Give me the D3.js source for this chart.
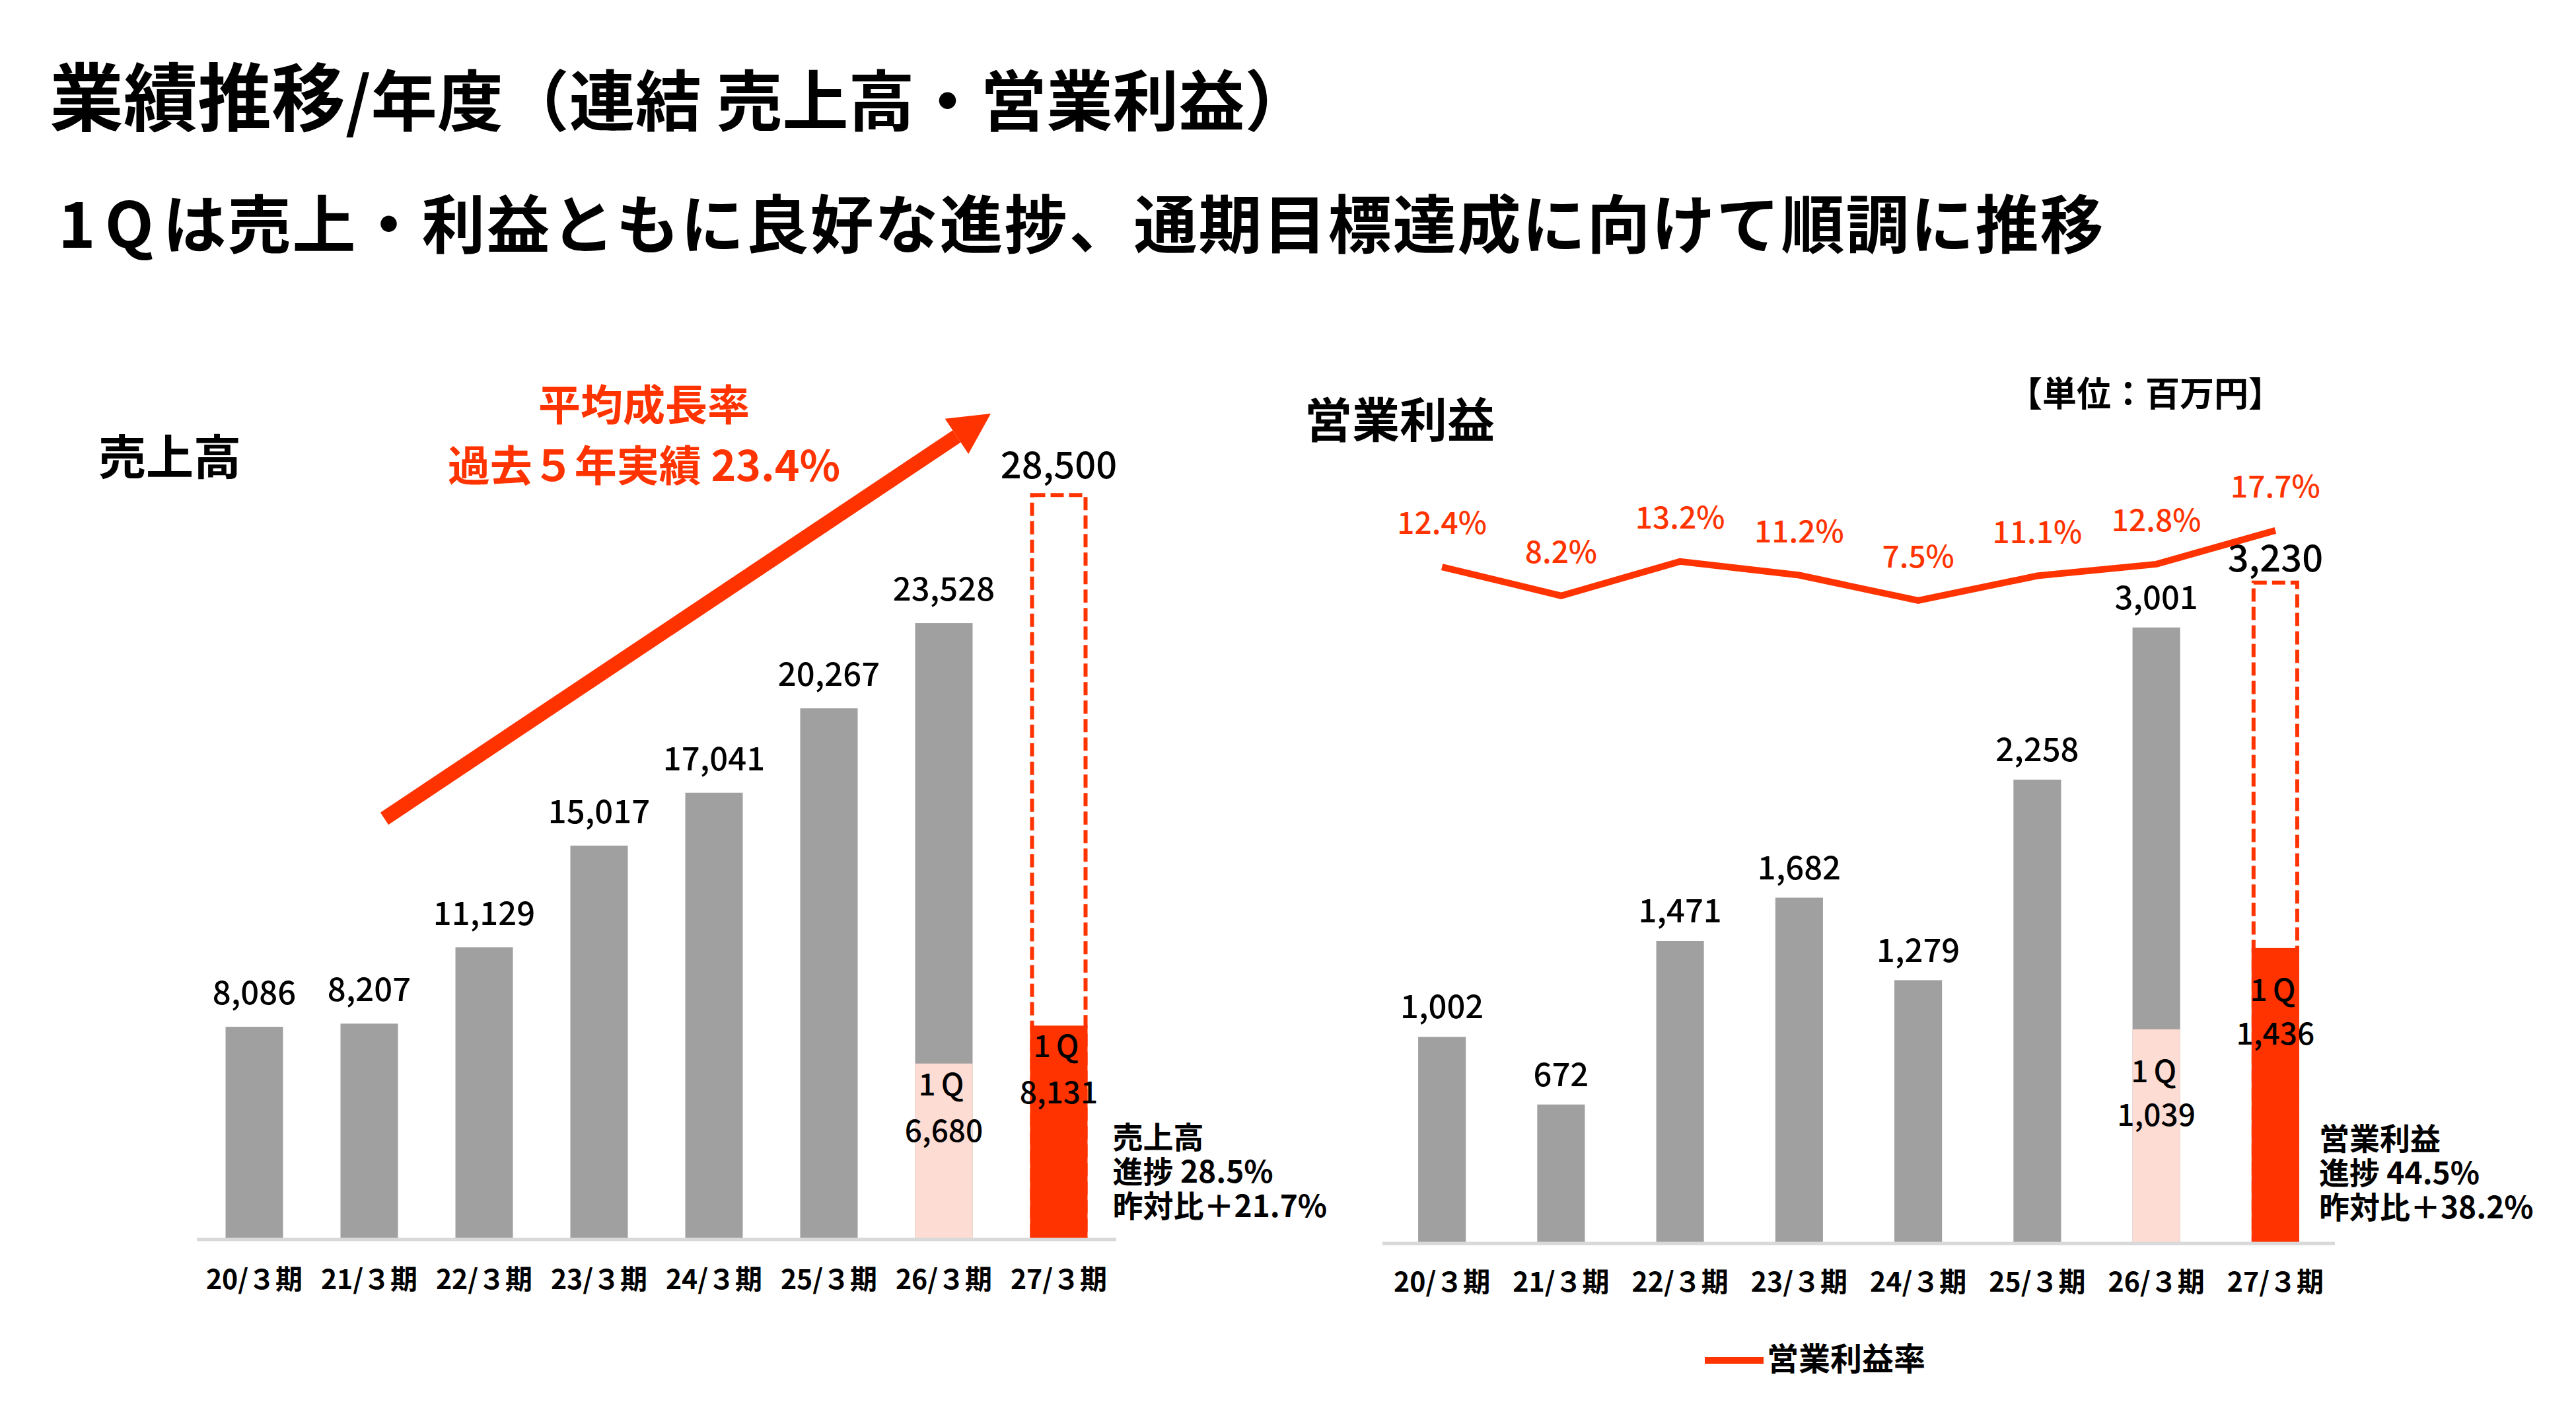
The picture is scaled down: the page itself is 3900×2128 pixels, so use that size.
<!DOCTYPE html>
<html>
<head>
<meta charset="utf-8">
<script src="https://cdn.jsdelivr.net/npm/d3@7"></script>
<style>
  body { margin: 0; background: #fff; }
  svg text { font-family: "Noto Sans CJK JP", "Noto Sans", sans-serif; }
</style>
</head>
<body>
<svg id="chart" width="3900" height="2128"></svg>
<script>
// categories
var periods = ['20/３期', '21/３期', '22/３期', '23/３期', '24/３期', '25/３期', '26/３期', '27/３期'];
var q1Periods = ['26/３期', '27/３期'];
var planPeriod = '27/３期';

// 売上高 (百万円)
var salesValues = [8086, 8207, 11129, 15017, 17041, 20267, 23528, 28500];
var salesQ1 = [6680, 8131];
var salesNote = ['売上高', '進捗 28.5%', '昨対比＋21.7%'];

// 営業利益 (百万円)
var profitValues = [1002, 672, 1471, 1682, 1279, 2258, 3001, 3230];
var profitQ1 = [1039, 1436];
var profitNote = ['営業利益', '進捗 44.5%', '昨対比＋38.2%'];

// 営業利益率 (%)
var marginValues = [12.4, 8.2, 13.2, 11.2, 7.5, 11.1, 12.8, 17.7];

var gray = '#a0a0a0',
    pink = '#fddcd3',
    red = '#ff3300',
    axisGray = '#d9d9d9';

// small stand-in for d3-selection-multi
d3.selection.prototype.attrs = function (map) {
    var sel = this;
    Object.keys(map).forEach(function (k) { sel.attr(k, map[k]); });
    return sel;
};

var svg = d3.select('#chart');
var fmt = d3.format(',');

// titles
var title = svg.append('text')
    .attrs({ x: 75, y: 190, 'font-weight': 700, fill: '#000' });
title.append('tspan').attr('font-size', 112).text('業績推移');
title.append('tspan').attr('font-size', 100).text('/年度（連結 売上高・営業利益）');

var sub = svg.append('text')
    .attrs({ x: 88, y: 375, 'font-size': 96, 'font-weight': 700, fill: '#000' });
sub.append('tspan').attr('letter-spacing', 14).text('1Q');
sub.append('tspan').attr('letter-spacing', 2).text('は売上・利益ともに良好な進捗、通期目標達成に向けて順調に推移');

function drawPanel(opt) {
    var g = svg.append('g');

    var x = d3.scaleBand()
        .domain(periods)
        .range(opt.xRange)
        .paddingInner(opt.padIn)
        .paddingOuter(opt.padOut);

    var y = d3.scaleLinear()
        .domain([0, opt.yMax])
        .range([opt.base, opt.yTop]);

    var bw = x.bandwidth();
    var rows = periods.map(function (p, i) { return { p: p, v: opt.values[i] }; });
    var q1Rows = q1Periods.map(function (p, i) { return { p: p, v: opt.q1[i] }; });

    // full year bars
    g.selectAll('.bar')
        .data(rows.filter(function (d) { return d.p !== planPeriod; }))
        .enter().append('rect')
        .attrs({
            x: function (d) { return x(d.p); },
            y: function (d) { return y(d.v); },
            width: bw,
            height: function (d) { return y(0) - y(d.v); },
            fill: gray
        });

    // plan box (dashed)
    var plan = rows.filter(function (d) { return d.p === planPeriod; })[0];
    g.append('rect')
        .attrs({
            x: x(plan.p) + 3,
            y: y(plan.v) + 3,
            width: bw - 6,
            height: y(0) - y(plan.v) - 3,
            fill: 'none',
            stroke: red,
            'stroke-width': 6,
            'stroke-dasharray': '20,8'
        });

    // 1Q bars
    g.selectAll('.q1')
        .data(q1Rows)
        .enter().append('rect')
        .attrs({
            x: function (d) { return x(d.p); },
            y: function (d) { return y(d.v); },
            width: bw,
            height: function (d) { return y(0) - y(d.v); },
            fill: function (d) { return d.p === planPeriod ? red : pink; }
        });

    // axis line
    g.append('line')
        .attrs({
            x1: opt.xRange[0], x2: opt.xRange[1],
            y1: opt.base + 2, y2: opt.base + 2,
            stroke: axisGray, 'stroke-width': 5
        });

    // value labels
    g.selectAll('.val')
        .data(rows)
        .enter().append('text')
        .text(function (d) { return fmt(d.v); })
        .attrs({
            x: function (d) { return x(d.p) + bw / 2; },
            y: function (d) { return y(d.v) - (d.p === planPeriod ? opt.planGap : opt.valGap); },
            'text-anchor': 'middle',
            'font-size': function (d) { return d.p === planPeriod ? 56 : 49; },
            'font-weight': 500,
            fill: '#000'
        });

    // 1Q labels inside bars
    q1Rows.forEach(function (d) {
        var cx = x(d.p) + bw / 2;
        g.append('text').text('1Q')
            .attrs({ x: cx, y: y(d.v) + opt.q1Gap[0], 'text-anchor': 'middle', 'font-size': 46, 'font-weight': 500, 'letter-spacing': 8, fill: '#000' });
        g.append('text').text(fmt(d.v))
            .attrs({ x: cx, y: y(d.v) + opt.q1Gap[1], 'text-anchor': 'middle', 'font-size': 46, 'font-weight': 500, fill: '#000' });
    });

    // category axis
    g.append('g')
        .attr('transform', 'translate(0,' + opt.base + ')')
        .call(d3.axisBottom(x).tickSize(0).tickPadding(opt.tickPad))
        .call(function (a) { a.select('.domain').remove(); })
        .selectAll('text')
        .attrs({ 'font-size': 41, 'font-weight': 700, fill: '#000' });

    // note beside the plan bar, one text per line
    var nx = x(planPeriod) + bw + opt.noteDx;
    g.selectAll('.note')
        .data(opt.note)
        .enter().append('text')
        .text(function (d) { return d; })
        .attrs({
            x: nx,
            y: function (d, i) { return opt.noteY + i * 52; },
            'font-size': 46,
            'font-weight': 700,
            fill: '#000'
        });

    return { x: x, y: y, g: g };
}

// ---- 売上高 ----
var left = drawPanel({
    values: salesValues, q1: salesQ1, note: salesNote,
    xRange: [298, 1690], padIn: 0.5, padOut: 0.25,
    base: 1874, yTop: 687, yMax: 30000,
    valGap: 34, planGap: 22, q1Gap: [48, 118],
    tickPad: 48, noteDx: 38, noteY: 1738
});

svg.append('text').text('売上高')
    .attrs({ x: 149, y: 718, 'font-size': 72, 'font-weight': 700, fill: '#000' });

svg.append('text').text('平均成長率')
    .attrs({ x: 975, y: 636, 'text-anchor': 'middle', 'font-size': 64, 'font-weight': 700, fill: red });
svg.append('text').text('過去５年実績 23.4%')
    .attrs({ x: 975, y: 728, 'text-anchor': 'middle', 'font-size': 64, 'font-weight': 700, fill: red });

// growth arrow
var arrowFrom = [582, 1239], arrowTo = [1500, 626];
var ang = Math.atan2(arrowTo[1] - arrowFrom[1], arrowTo[0] - arrowFrom[0]);
var headLen = 62, headHalf = 32;
var baseMid = [arrowTo[0] - headLen * Math.cos(ang), arrowTo[1] - headLen * Math.sin(ang)];
svg.append('line')
    .attrs({
        x1: arrowFrom[0], y1: arrowFrom[1], x2: baseMid[0], y2: baseMid[1],
        stroke: red, 'stroke-width': 22
    });
svg.append('path')
    .attrs({
        d: 'M' + arrowTo + 'L' + [baseMid[0] + headHalf * Math.sin(ang), baseMid[1] - headHalf * Math.cos(ang)] +
           'L' + [baseMid[0] - headHalf * Math.sin(ang), baseMid[1] + headHalf * Math.cos(ang)] + 'Z',
        fill: red
    });

// ---- 営業利益 ----
var right = drawPanel({
    values: profitValues, q1: profitQ1, note: profitNote,
    xRange: [2093, 3535], padIn: 0.6, padOut: 0.3,
    base: 1880, yTop: 795, yMax: 3500,
    valGap: 28, planGap: 14, q1Gap: [80, 146],
    tickPad: 46, noteDx: 30, noteY: 1740
});

svg.append('text').text('営業利益')
    .attrs({ x: 1975, y: 662, 'font-size': 72, 'font-weight': 700, fill: '#000' });
svg.append('text').text('【単位：百万円】')
    .attrs({ x: 3040, y: 615, 'font-size': 52, 'font-weight': 700, fill: '#000' });

// operating margin line
var ym = d3.scaleLinear().domain([0, 20]).range([987, 779]);
var marginRows = periods.map(function (p, i) { return { p: p, v: marginValues[i] }; });
var bwR = right.x.bandwidth();
var line = d3.line()
    .x(function (d) { return right.x(d.p) + bwR / 2; })
    .y(function (d) { return ym(d.v); });

svg.append('path')
    .datum(marginRows)
    .attrs({ d: line, fill: 'none', stroke: red, 'stroke-width': 10 });

svg.selectAll('.pct')
    .data(marginRows)
    .enter().append('text')
    .text(function (d) { return d.v.toFixed(1) + '%'; })
    .attrs({
        x: function (d) { return right.x(d.p) + bwR / 2; },
        y: function (d) { return ym(d.v) - 50; },
        'text-anchor': 'middle',
        'font-size': 46,
        'font-weight': 500,
        fill: red
    });

// legend
var legend = svg.append('g').attr('class', 'legend');
legend.append('line')
    .attrs({ x1: 2581, x2: 2670, y1: 2059, y2: 2059, stroke: red, 'stroke-width': 10 });
legend.append('text').text('営業利益率')
    .attrs({ x: 2675, y: 2074, 'font-size': 48, 'font-weight': 700, fill: '#000' });
</script>
</body>
</html>
